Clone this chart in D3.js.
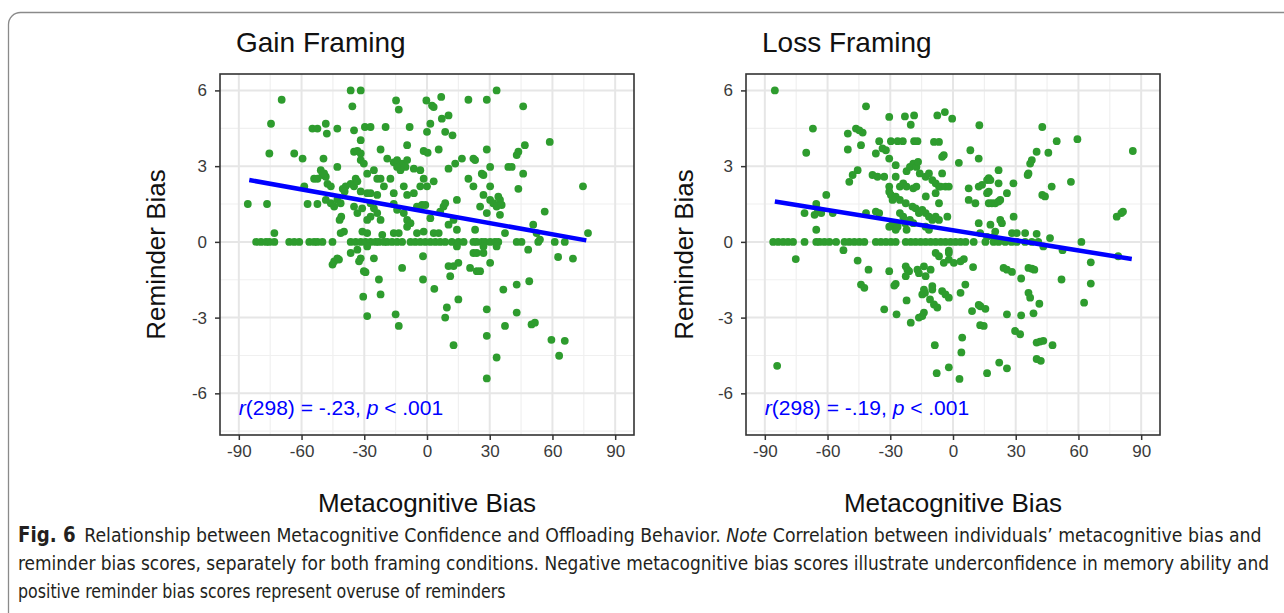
<!DOCTYPE html>
<html>
<head>
<meta charset="utf-8">
<script src="https://cdn.jsdelivr.net/npm/d3@7"></script>
<style>
  body { margin: 0; background: #fff; }
  svg { display: block; }
</style>
</head>
<body>
<svg id="chart" width="1284" height="613"></svg>
<script>
// ---- data ----
let xTicks = [-90, -60, -30, 0, 30, 60, 90];
let yTicks = [-6, -3, 0, 3, 6];
let xMinor = [-75, -45, -15, 15, 45, 75];
let yMinor = [-7.5, -4.5, -1.5, 1.5, 4.5];

let gainX = [
  -36.5, -31.7, 33.3, -69.5, -35.7, -14.8, -13.5, -0.3, 2.4, 3.2, 6.8, 19.8, 28.6, 46,
  -74.6, -54.8, -52.4, -48.4, -47.9, -42.9, -34.9, -29.7, -27, -19.8, -8.3, 0, 1.6, 7.1, 10.3, 8.7, 12.2,
  -31.7, 58.7, 46.8, 43.7, 42.9, 28.6, 5.6, -1.6, 0.3, -9.5, -22.2, -34.9, -33.3, -31.7, -63.5, -59.5, -75.4, -49.5,
  -42.9, -31.7, -30.2, -19, -15.9, -14.3, -11.9, -9.5, -10.3, -12.7, -14.3, 22.2, 23, 16.7, 13.5, 10.3, 30.2, 38.9, 40.5, -25.4,
  -23.8, -28.6, -22.2, -17.5, -6.3, -3.2, -1.6, 3.2, 19.8, 22.2, 26.2, 27, 46, 30.2, 43.7, 74.6, -54, -52.4,
  -50, -48.4, -50.8, -49.2, -47.6, -46, -38.9, -36.5, -34.9, -58.7, -40.3, -39.4, -34.1, -33.3, -31.7, -28.6, -27, -20.6, -15.9, -11.1,
  -9.5, -6.3, -3.2, 0, -23.8, 14.3, 27, 30.2, 31.7, 34.1, 34.9, 33.3, 35.7, 25.4, 28.6, 34.9, 56.3, 50.8,
  52.4, 37.3, 77, -85.7, -76.5, -57.1, -52.4, -48.4, -46, -44.4, -42.9, -41.3, -34.9, -33.3, -31, -27, -25.4, -23.8, -22.2,
  -27, -28.6, -15.9, -14.3, -11.1, -9.5, -7.9, -9.5, -4.8, -2.4, -0.8, 1.6, 6.3, 7.9, 8.7, 10.3, 12.7, 14.3, -41, -41.8,
  -39.7, -41.3, -73, -30.9, -28.6, -21.4, -15.9, -13.5, -4.8, -1.6, 3.2, 5.6, 23,
  -81.7, -79.4, -77, -75.4, -73, -65.9, -63.5, -61.1, -56.3, -54, -52.4, -50,
  -45.2, -36.5, -34.1, -31.7, -29.4, -27, -24.6, -23, -20.6, -19, -16.7, -14.3,
  -11.9, -7.9, -5.6, -3.2, -0.8, 1.6, 4, 6.3, 8.7, 11.9, 15, 17.5,
  22.2, 23.8, 26.2, 27.8, 30.2, 32.5, 34.1, 42.9, 45.2, 53.2, 61.1, 65.9,
  -28.6, 14.3, 27, 33.3,
  -45.2, -44.4, -42.9, -42.1, -36.5, -33.3, -31.7, -32.5, -25.4, -11.9, -23, -22.2, -30.2, -29.4, -30.5, -28.6, -15, -13.5,
  -1.9, -1.9, 3.5, 10.3, 12.7, 15, 11.1, 20.6, 23.8, 25.4, 30.2, 22.2, 23.8, 27, 9.5, 8.7, 15, 28.6,
  36.5, 42.9, 48.9, 42.9, 37.3, 50, 51.6, 28.6, 12.7, 33.3, 59.5, 65.9, 63.2, 28.6, 48.4, 62.7, 69.8, 54
];
let gainY = [
  6.0, 6.0, 6.0, 5.63, 5.37, 5.6, 5.24, 5.6, 5.4, 5.34, 5.74, 5.63, 5.63, 5.37,
  4.68, 4.49, 4.49, 4.68, 4.29, 4.49, 4.42, 4.55, 4.55, 4.55, 4.55, 4.36, 4.68, 4.88, 5.01, 4.36, 4.22,
  4.03, 3.96, 3.83, 3.57, 3.44, 3.66, 3.66, 3.6, 3.53, 3.83, 3.66, 3.57, 3.6, 3.5, 3.5, 3.3, 3.5, 3.3,
  2.97, 3.24, 3.1, 3.3, 3.15, 3.24, 3.1, 3.24, 2.97, 2.84, 2.97, 3.3, 3.24, 3.3, 3.1, 2.9, 2.97, 2.97, 2.97, 2.84,
  2.5, 2.7, 2.5, 2.5, 2.9, 2.84, 2.5, 2.4, 2.5, 2.2, 2.7, 2.65, 2.7, 2.2, 2.1, 2.2, 2.5, 2.5,
  2.65, 2.58, 2.84, 2.71, 2.3, 2.2, 2.2, 2.3, 2.2, 2.2, 2.1, 2.0, 2.5, 2.4, 2.0, 1.93, 1.93, 2.2, 1.93, 2.2,
  1.86, 1.93, 2.2, 2.2, 1.86, 1.66, 1.86, 1.66, 1.53, 1.79, 1.66, 1.4, 1.46, 1.4, 1.14, 1.07, 1.2, 0.68,
  0.35, 0.35, 0.35, 1.5, 1.5, 1.5, 1.5, 1.66, 1.53, 1.4, 1.66, 1.53, 1.4, 1.14, 1.33, 1.53, 1.33, 1.14, 0.87,
  1.0, 0.87, 1.5, 1.27, 1.14, 0.87, 0.74, 0.6, 1.4, 1.46, 1.46, 0.94, 1.2, 1.4, 1.53, 0.68, 0.87, 0.48, 1.0, 0.87,
  0.41, 0.35, 0.35, 0.41, 0.35, 0.28, 0.35, 0.35, 0.35, 0.41, 0.35, 0.35, 0.48,
  0, 0, 0, 0, 0, 0, 0, 0, 0, 0, 0, 0,
  0, 0, 0, 0, 0, 0, 0, 0, 0, 0, 0, 0,
  0, 0, 0, 0, 0, 0, 0, 0, 0, 0, 0, 0,
  0, 0, 0, 0, 0, 0, 0, 0, 0, 0, 0, 0,
  -0.18, -0.18, -0.18, -0.18,
  -0.9, -0.77, -0.65, -0.7, -0.44, -0.31, -0.65, -0.77, -0.65, -1.03, -1.49, -2.08, -1.16, -1.2, -2.17, -2.94, -2.87, -3.33,
  -0.57, -1.49, -1.86, -0.96, -0.96, -0.83, -1.36, -1.03, -1.16, -1.16, -0.83, -0.44, -0.44, -0.44, -2.6, -3.0, -2.28, -2.67,
  -1.89, -1.69, -1.56, -2.8, -3.33, -3.27, -3.2, -3.72, -4.09, -4.58, -3.88, -3.92, -4.51, -5.41, -0.31, -0.6, -0.66, 0.09
];

let lossX = [
  -85.2, -84.1, -41.6, -30.5, -23, -18.6, -7.5, -3.9, -0.4, -20.2, 12.6, 42.7, -67, -50.3, -46.4, -44.8, -43.2, -44, 49.6, 59.5,
  -35.3, -29.7, -26.5, -24, -18.6, -17, -9.1, -6.7, -50.3, -70.2, -36.9, -33.7, -32.1, -30.5, -27.4, -4.4, -5.2, 8.3, 12.3, 2.8,
  40, 45.6, 37.7, 36.9, 36.1, 35.7, 86, 56.4, 47.2, 42.7, 44, -45.6, -48, -49.6, -38.5, -36.1, -32.9, -27.4, -30.5, -22.2,
  -20.6, -19, -17.5, -16.7, -15.9, -13.1, -11.5, -9.9, -8.3, -6.7, -5.2, -25.4, -23.8, -22.2, -19, -17.5, -29.7, -27.4, -25.4, -30.5,
  -28.9, -13, -8.3, -5.9, -3.6, -2, -6.7, 7.5, 12.3, 13.9, 16.3, 17.1, 17.9, 21.8, 21.8, 28.9, 25.8, 16.3, 17.1, 7.5,
  10.7, 17.1, 18.6, 20.2, 21.8, 22.6, -60.6, -71, -65.4, -66.2, -64.6, -63, -57.5, -65.4, -41.6, -36.9, -35.3, -22.6, -19.4, -17.9,
  -16.3, -25.4, -23.8, -20.6, -19, -30.5, -28.9, -27.4, -26.5, -22.2, -22.9, -13.1, -11.5, -9.9, -14.7, -13.1, -11.5, -8.3, -6.7, -2.7,
  22.6, 23.4, 29, 28.2, 30.5, 34.5, 40, 46.4, 78.3, 80.5, 81.3, 12.3, 13, 16.3, 17.9, 19.4, 20.2,
  -86, -83.6, -81.2, -78.9, -76.5, -71, -65.4, -63.8, -61.5, -59.1, -55.9, -51.9,
  -49.6, -47.2, -44.8, -42.4, -36.9, -34.5, -32.1, -29.7, -27.4, -22.6, -20.2, -17.9,
  -15.5, -13.1, -10.7, -8.3, -5.9, -3.6, -1.2, 1.2, 3.6, 6, 9.9, 15.5,
  19.4, 21.8, 25, 28, 30.5, 34.5, 37.7, 40.8, 61.4,
  -52.4, -75.2, -45.6, -40.4, -44, -42.4, -30.5, -27.4, -28.1, -22.6, -21.8, -21, -22.6, -17, -16.3, -13.9, -13.1, -10.7, -8.3, -6.7,
  -2, -2, -4.4, -2, 0.4, 3.6, 5.2, -9.9, -9.9, -14.7, -13.9, -9.1, -7.5, -5.2, -3.6, -2, 3.6, 5.9, 9.6, 9.1,
  12.3, 13.1, 15.5, -32.9, -27, -22.2, -20.2, -16.3, -14.7, -13.9, -8.7, -7.8, -2, 3.1, 4.4, 4, 13, 14.7, 16.3, 22.1,
  25.8, 25.8, 24.2, 25.8, 28.2, 32.6, 32.6, 29.7, 32.1, 36.1, 36.9, 36.1, 37.7, 38.9, 38.5, 41.3, 40, 41.6, 43.2, 40,
  42, 47.6, 51.9, 65.9, 65.9, 62.7, 52.4, 43.2, 79, -11, -13.4
];
let lossY = [
  6.0, -4.91, 5.37, 4.95, 4.97, 5.01, 5.01, 5.14, 4.88, 4.64, 4.62, 4.55, 4.49, 4.29, 4.49, 4.42, 4.33, 3.83, 3.99, 4.07,
  3.99, 3.99, 3.99, 3.99, 3.99, 3.99, 3.96, 3.96, 3.66, 3.53, 3.5, 3.7, 3.63, 3.3, 3.04, 3.44, 3.37, 3.63, 3.3, 3.13,
  3.57, 3.53, 3.24, 3.1, 2.71, 2.65, 3.6, 2.38, 2.19, 1.86, 1.8, 2.84, 2.65, 2.38, 2.65, 2.58, 2.58, 2.58, 2.19, 2.8,
  2.97, 3.1, 2.97, 3.17, 2.71, 2.58, 2.71, 2.45, 2.32, 2.19, 2.71, 2.19, 2.32, 2.19, 2.12, 2.19, 1.86, 1.79, 1.66, 1.99,
  1.66, 1.8, 1.93, 2.19, 2.19, 2.19, 1.53, 2.12, 2.19, 2.26, 2.45, 2.52, 2.45, 2.84, 2.32, 2.32, 1.93, 1.93, 1.99, 1.66,
  1.53, 1.53, 1.53, 1.53, 1.6, 1.66, 1.86, 1.14, 1.5, 1.07, 1.27, 1.14, 1.14, 0.48, 1.14, 1.2, 1.14, 1.53, 1.4, 1.33,
  1.14, 1.14, 1.0, 0.87, 0.74, 0.6, 0.74, 0.48, 0.6, 0.48, 0.74, 1.14, 1.0, 0.87, 1.27, 0.6, 0.48, 1.0, 0.87, 1.0,
  0.87, 0.74, 1.0, 0.35, 0.35, 0.35, 0.32, 0.15, 1.0, 1.14, 1.2, 0.74, 0.35, 0.2, 0.68, 0.2, 0.41,
  0, 0, 0, 0, 0, 0, 0, 0, 0, 0, 0, 0,
  0, 0, 0, 0, 0, 0, 0, 0, 0, 0, 0, 0,
  0, 0, 0, 0, 0, 0, 0, 0, 0, 0, 0, 0,
  0, 0, 0, 0, 0, 0, 0, 0, 0,
  -0.33, -0.68, -0.74, -1.1, -1.69, -1.82, -1.16, -1.66, -1.73, -0.97, -1.1, -1.16, -1.36, -1.1, -1.24, -0.97, -1.36, -1.1, -0.44, -0.57,
  -0.35, -0.44, -0.83, -0.7, -0.83, -0.77, -0.68, -1.75, -1.89, -2.08, -1.89, -2.48, -2.6, -1.95, -2.08, -2.21, -2.02, -1.69, -1.0, -2.74,
  -2.5, -2.55, -2.65, -2.67, -2.87, -2.32, -3.2, -3.0, -2.94, -2.8, -4.09, -5.2, -4.97, -5.43, -3.79, -4.38, -3.3, -3.33, -5.2, -4.78,
  -5.01, -2.87, -1.03, -1.1, -1.19, -1.45, -2.91, -3.53, -3.66, -2.02, -2.21, -1.03, -1.06, -1.1, -2.83, -2.45, -3.99, -3.95, -3.92, -4.64,
  -4.71, -4.09, -1.49, -0.81, -1.65, -2.41, -0.33, -0.18, -0.57, -2.28, -2.02
];

// fitted regression lines (end points)
let gainFitX = [-85, 76.2];
let gainFitY = [2.45, 0.06];
let lossFitX = [-85.2, 85.5];
let lossFitY = [1.6, -0.68];

let titles = ['Gain Framing', 'Loss Framing'];
let stats = [{ df: 298, r: '-.23', p: '.001' }, { df: 298, r: '-.19', p: '.001' }];

let captionLines = [
  [['Fig. 6', 'bold'], ['\u2002Relationship between Metacognitive Confidence and Offloading Behavior. ', 'normal'],
   ['Note', 'italic'], [' Correlation between individuals\u2019 metacognitive bias and', 'normal']],
  [['reminder bias scores, separately for both framing conditions. Negative metacognitive bias scores illustrate underconfidence in memory ability and', 'normal']],
  [['positive reminder bias scores represent overuse of reminders', 'normal']]
];
let captionEnds = [1262, 1270, 506];

// ---- layout ----
let svg = d3.select('#chart');
let font = '"Liberation Sans", Arial, sans-serif';

svg.append('rect')
    .attr('x', 8.5).attr('y', 12.5)
    .attr('width', 1400).attr('height', 700)
    .attr('rx', 12)
    .attr('fill', 'none')
    .attr('stroke', '#8a8a8a')
    .attr('stroke-width', 1.3);

let panelTop = 74, panelH = 361, panelW = 414;
let panels = [
  { left: 220, xs: gainX, ys: gainY, fx: gainFitX, fy: gainFitY, yTitleX: 165 },
  { left: 746, xs: lossX, ys: lossY, fx: lossFitX, fy: lossFitY, yTitleX: 693 }
];

panels.forEach((p, i) => {
  let x = d3.scaleLinear().domain([-99, 99]).range([0, panelW]);
  let y = d3.scaleLinear().domain([-7.65, 6.65]).range([panelH, 0]);

  let g = svg.append('g')
      .attr('transform', `translate(${p.left},${panelTop})`);

  g.append('rect')
      .attr('width', panelW).attr('height', panelH)
      .attr('fill', '#fff');

  // minor grid
  g.selectAll('.vminor').data(xMinor).enter().append('line')
      .attr('x1', d => x(d)).attr('x2', d => x(d))
      .attr('y1', 0).attr('y2', panelH)
      .attr('stroke', '#f0f0f0').attr('stroke-width', 1.2);
  g.selectAll('.hminor').data(yMinor).enter().append('line')
      .attr('y1', d => y(d)).attr('y2', d => y(d))
      .attr('x1', 0).attr('x2', panelW)
      .attr('stroke', '#f0f0f0').attr('stroke-width', 1.2);
  // major grid
  g.selectAll('.vmajor').data(xTicks).enter().append('line')
      .attr('x1', d => x(d)).attr('x2', d => x(d))
      .attr('y1', 0).attr('y2', panelH)
      .attr('stroke', '#e6e6e6').attr('stroke-width', 2);
  g.selectAll('.hmajor').data(yTicks).enter().append('line')
      .attr('y1', d => y(d)).attr('y2', d => y(d))
      .attr('x1', 0).attr('x2', panelW)
      .attr('stroke', '#e6e6e6').attr('stroke-width', 2);

  // points
  g.selectAll('.dot')
      .data(d3.range(p.xs.length))
    .enter().append('circle')
      .attr('cx', k => x(p.xs[k]))
      .attr('cy', k => y(p.ys[k]))
      .attr('r', 3.9)
      .attr('fill', '#2e9c2e');

  // fit line
  g.append('line')
      .attr('x1', x(p.fx[0])).attr('y1', y(p.fy[0]))
      .attr('x2', x(p.fx[1])).attr('y2', y(p.fy[1]))
      .attr('stroke', '#0000ff')
      .attr('stroke-width', 4.5);

  // stats text
  let s = stats[i];
  let t = g.append('text')
      .attr('x', x(-90))
      .attr('y', y(-6.55) + 7.5)
      .attr('fill', '#0000ff')
      .style('font-family', font)
      .style('font-size', '21px');
  t.append('tspan').style('font-style', 'italic').text('r');
  t.append('tspan').text(`(${s.df}) = ${s.r}, `);
  t.append('tspan').style('font-style', 'italic').text('p');
  t.append('tspan').text(` < ${s.p}`);

  // panel border
  g.append('rect')
      .attr('width', panelW).attr('height', panelH)
      .attr('fill', 'none')
      .attr('stroke', '#333')
      .attr('stroke-width', 1.6);

  // axes (plain hyphen for negatives, as in the figure)
  let xAxis = d3.axisBottom(x).tickValues(xTicks).tickSize(5).tickPadding(5).tickFormat(d => String(d));
  let yAxis = d3.axisLeft(y).tickValues(yTicks).tickSize(5).tickPadding(8).tickFormat(d => String(d));

  let gx = g.append('g')
      .attr('transform', `translate(0,${panelH})`)
      .call(xAxis);
  let gy = g.append('g').call(yAxis);

  [gx, gy].forEach(a => {
    a.select('.domain').remove();
    a.selectAll('line').attr('stroke', '#333').attr('stroke-width', 1.5);
    a.selectAll('text')
        .attr('fill', '#3a3a3a')
        .style('font-family', font)
        .style('font-size', '17px');
  });

  // titles
  svg.append('text')
      .attr('x', p.left + 16)
      .attr('y', 52)
      .attr('fill', '#111')
      .style('font-family', font)
      .style('font-size', '28px')
      .text(titles[i]);

  svg.append('text')
      .attr('x', p.left + panelW / 2)
      .attr('y', 512)
      .attr('text-anchor', 'middle')
      .attr('fill', '#111')
      .style('font-family', font)
      .style('font-size', '26px')
      .text('Metacognitive Bias');

  svg.append('text')
      .attr('transform', `translate(${p.yTitleX},${panelTop + panelH / 2}) rotate(-90)`)
      .attr('text-anchor', 'middle')
      .attr('fill', '#111')
      .style('font-family', font)
      .style('font-size', '26px')
      .text('Reminder Bias');
});

// ---- caption ----
let capFont = '"Liberation Sans Narrow", "DejaVu Sans Condensed", "Open Sans", sans-serif';
captionLines.forEach((line, i) => {
  let baseY = 542 + i * 28;
  let t = svg.append('text')
      .attr('x', 0).attr('y', 0)
      .attr('fill', '#231f20')
      .style('font-family', capFont)
      .style('font-size', '20px');
  line.forEach(([str, style]) => {
    let ts = t.append('tspan').text(str);
    if (style === 'bold') ts.style('font-weight', 'bold').style('font-size', '21px');
    if (style === 'italic') ts.style('font-style', 'italic');
  });
  let w = t.node().getComputedTextLength();
  let sx = (captionEnds[i] - 18) / w;
  t.attr('transform', `translate(18,${baseY}) scale(${sx},1)`);
});
</script>
</body>
</html>
